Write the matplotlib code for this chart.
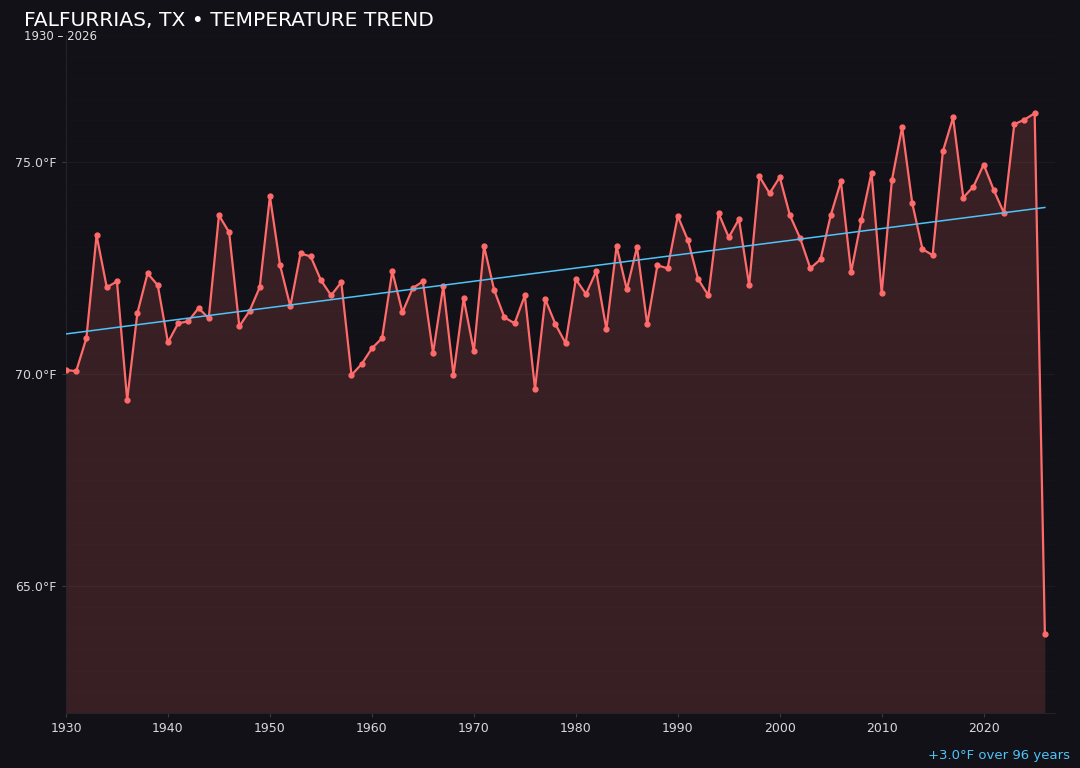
import numpy as np
import matplotlib
matplotlib.use("Agg")
import matplotlib.pyplot as plt
from matplotlib.ticker import MultipleLocator, FuncFormatter

years = np.arange(1930, 2027)
temps = [
    70.10, 70.07, 70.85, 73.28, 72.05, 72.19, 69.39, 71.44, 72.38, 72.10,  # 1930s
    70.75, 71.20, 71.25, 71.56, 71.32, 73.75, 73.35, 71.13, 71.49, 72.05,  # 1940s
    74.20, 72.57, 71.60, 72.85, 72.78, 72.22, 71.86, 72.17, 69.98, 70.24,  # 1950s
    70.61, 70.85, 72.43, 71.46, 72.03, 72.19, 70.50, 72.08, 69.98, 71.79,  # 1960s
    70.54, 73.02, 71.98, 71.34, 71.20, 71.86, 69.65, 71.77, 71.18, 70.73,  # 1970s
    72.24, 71.89, 72.43, 71.06, 73.02, 72.00, 73.00, 71.18, 72.57, 72.50,  # 1980s
    73.73, 73.16, 72.24, 71.86, 73.80, 73.23, 73.66, 72.10, 74.67, 74.27,  # 1990s
    74.65, 73.75, 73.21, 72.50, 72.71, 73.75, 74.55, 72.41, 73.63, 74.76,  # 2000s
    71.91, 74.58, 75.83, 74.03, 72.95, 72.81, 75.26, 76.06, 74.17, 74.43,  # 2010s
    74.95, 74.34, 73.80, 75.90, 76.01, 76.16, 63.87,                      # 2020s
]
temps = np.array(temps)

bg = "#121117"
line_col = "#ff6b6b"
trend_col = "#4fc3f7"
ymin, ymax = 62, 78

fig = plt.figure(figsize=(10.8, 7.68), dpi=100, facecolor=bg)
ax = fig.add_axes([0.0611, 0.0716, 0.9158, 0.8824])
ax.set_facecolor(bg)

ax.fill_between(years, temps, ymin, color=line_col, alpha=0.16, linewidth=0)
ax.plot(years, temps, color=line_col, linewidth=1.6, marker="o", markersize=3.5, zorder=3)

# linear trend
slope, intercept = np.polyfit(years, temps, 1)
trend = slope * years + intercept
ax.plot(years, trend, color=trend_col, linewidth=1.1, zorder=4)
change = trend[-1] - trend[0]

ax.set_xlim(1930, 2027)
ax.set_ylim(ymin, ymax)
ax.xaxis.set_major_locator(MultipleLocator(10))
ax.yaxis.set_major_locator(MultipleLocator(5))
ax.yaxis.set_minor_locator(MultipleLocator(0.5))
ax.yaxis.set_major_formatter(FuncFormatter(lambda v, p: f"{v:.1f}°F"))
ax.grid(which="major", axis="y", color="#ffffff", alpha=0.04, linewidth=1)
ax.grid(which="minor", axis="y", color="#ffffff", alpha=0.012, linewidth=0.8)
ax.tick_params(axis="both", which="major", colors="#3a3940", labelcolor="#d8d8dc",
               labelsize=9, length=3)
ax.tick_params(axis="y", which="minor", length=0)
for side in ["top", "right"]:
    ax.spines[side].set_visible(False)
for side in ["left", "bottom"]:
    ax.spines[side].set_color("#24232a")

fig.text(0.022, 0.973, "FALFURRIAS, TX • TEMPERATURE TREND", color="white",
         fontsize=14.6, va="center", ha="left")
fig.text(0.022, 0.952, "1930 – 2026", color="#e0e0e0", fontsize=8.5,
         va="center", ha="left")
fig.text(0.991, 0.016, f"{change:+.1f}°F over {years[-1] - years[0]} years",
         color=trend_col, fontsize=9.5, ha="right", va="center")

fig.savefig("out.png", dpi=100, facecolor=bg)
